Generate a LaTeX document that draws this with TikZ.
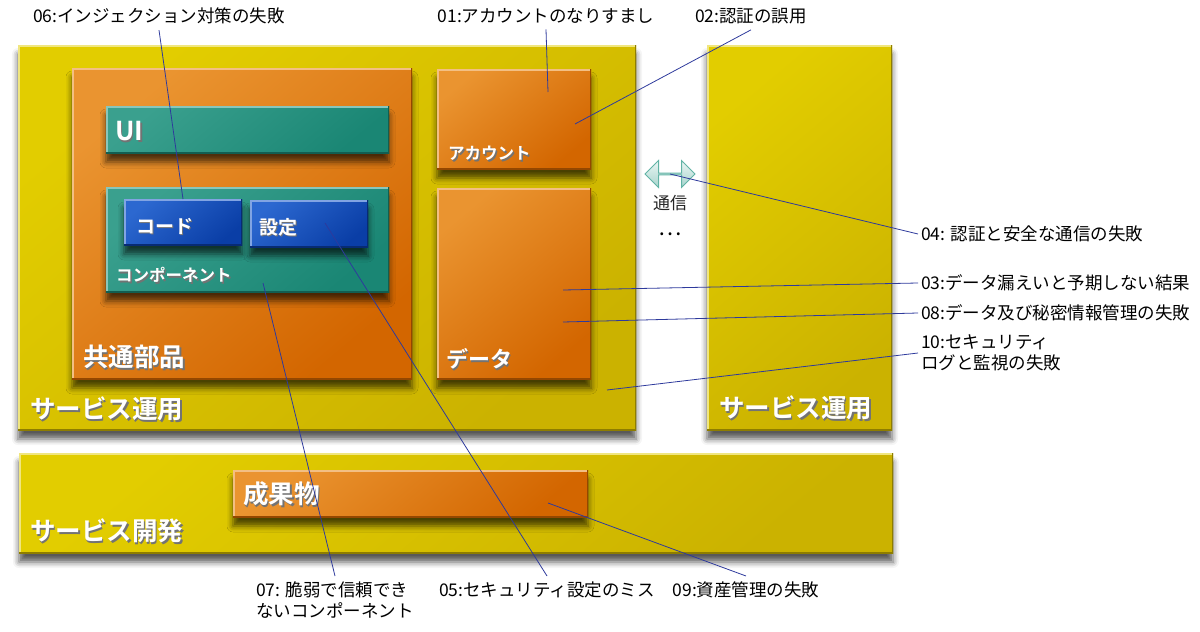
\documentclass[tikz,border=0pt]{standalone}
\usepackage{fontspec}
\setmainfont{Noto Sans CJK JP}[BoldFont={Noto Sans CJK JP Bold}]
\usepackage{xcolor}
\usetikzlibrary{positioning,shapes.arrows,shadows.blur}

\definecolor{ylwA}{HTML}{E2CD00}
\definecolor{ylwB}{HTML}{CBB200}
\definecolor{orgA}{HTML}{EA9430}
\definecolor{orgB}{HTML}{D36600}
\definecolor{tealA}{HTML}{3AA08E}
\definecolor{tealB}{HTML}{1A8674}
\definecolor{bluA}{HTML}{2C68D0}
\definecolor{bluB}{HTML}{0A3EA6}
\definecolor{leadblue}{HTML}{2E3A9C}

\newcommand{\shtxt}[1]{\makebox[0pt][l]{\hspace{1.5pt}\raisebox{-1.5pt}{\textcolor{black!55}{#1}}}#1}

\begin{document}
\begin{tikzpicture}[x=1pt, y=-1pt,
		bevel/.style 2 args={path picture={
			\draw[#1, line width=3pt] (path picture bounding box.south west) -- (path picture bounding box.north west) -- (path picture bounding box.north east);
			\draw[#2, line width=3pt] (path picture bounding box.north east) -- (path picture bounding box.south east) -- (path picture bounding box.south west);}},
		box/.style={rectangle, anchor=north west, inner sep=0pt, outer sep=0pt,
			blur shadow={shadow xshift=0pt, shadow yshift=-9pt, shadow blur radius=6pt, shadow opacity=65}},
		ybox/.style={box, top color=ylwA, bottom color=ylwB, shading angle=40, bevel={ylwA!50!white}{ylwB!70!black}},
		obox/.style={box, top color=orgA, bottom color=orgB, shading angle=40, bevel={orgA!60!white}{orgB!70!black}},
		tbox/.style={box, top color=tealA, bottom color=tealB, shading angle=40, bevel={tealA!60!white}{tealB!70!black}},
		bbox/.style={box, top color=bluA, bottom color=bluB, shading angle=40, bevel={bluA!60!white}{bluB!70!black}},
		btxt/.style={anchor=west, inner sep=0pt, text=white, font=\bfseries\fontsize{#1}{#1}\selectfont},
		lbl/.style={inner sep=3pt, outer ysep=3pt, align=left, font=\fontsize{17.5}{21}\selectfont},
		lead/.style={draw=leadblue, line width=0.8pt}]
	%\draw[help lines] (0,0) grid[step=50] (1200,632);
	\useasboundingbox (0,0) rectangle (1200,632);

	% service boxes
	\node[ybox, minimum width=618pt, minimum height=385pt] (ops) at (18,45) {};
	\node[ybox, minimum width=185pt, minimum height=385pt] (ops2) at (707,45) {};
	\node[ybox, minimum width=874pt, minimum height=100pt] (dev) at (19,453) {};

	\node[obox, minimum width=340pt, minimum height=311pt] (common) at (72,68) {};
	\node[tbox, minimum width=283pt, minimum height=47pt] (ui) at (106,106) {};
	\node[tbox, minimum width=283pt, minimum height=105pt] (comp) at (106,187) {};
	\node[bbox, minimum width=118pt, minimum height=46pt] (code) at (124,199) {};
	\node[bbox, minimum width=118pt, minimum height=47pt] (conf) at (250,200) {};
	\node[obox, minimum width=154pt, minimum height=100pt] (acct) at (437,69) {};
	\node[obox, minimum width=154pt, minimum height=191pt] (data) at (437,188) {};
	\node[obox, minimum width=355pt, minimum height=47pt] (deliv) at (233,470) {};

	\node[btxt=25.5] (tOps) at (30,410) {\shtxt{サービス運用}};
	\node[btxt=25.5] (tOps2) at (719,409) {\shtxt{サービス運用}};
	\node[btxt=25.5] (tDev) at (30,532) {\shtxt{サービス開発}};
	\node[btxt=25.5] (tCommon) at (83,358) {\shtxt{共通部品}};
	\node[btxt=26] (tUI) at (115,132) {\shtxt{UI}};
	\node[btxt=19] (tCode) at (136,227) {\shtxt{コード}};
	\node[btxt=19] (tConf) at (259,228) {\shtxt{設定}};
	\node[btxt=16.5] (tComp) at (116,276) {\shtxt{コンポーネント}};
	\node[btxt=16.5] (tAcct) at (448,154) {\shtxt{アカウント}};
	\node[btxt=22] (tData) at (446,360) {\shtxt{データ}};
	\node[btxt=25.5] (tDeliv) at (243,495) {\shtxt{成果物}};

	% communication
	\node[double arrow, double arrow head extend=7pt, minimum height=50pt, minimum width=27pt, inner sep=0pt,
		top color=white!90!tealA, bottom color=tealA!45!white, draw=tealA!80!white, line width=1pt] (comm) at (670,174) {};
	\node[font=\fontsize{17}{17}\selectfont, text=black!85] (commL) at (670,203) {通信};
	\node[font=\fontsize{22}{22}\selectfont] (dots) at (670,234) {…};

	% labels
	\node[lbl] (l06) at (159,16) {06:インジェクション対策の失敗};
	\node[lbl] (l01) at (546,16) {01:アカウントのなりすまし};
	\node[lbl] (l02) at (751,16) {02:認証の誤用};
	\node[lbl, anchor=west] (l04) at (918,234) {04: 認証と安全な通信の失敗};
	\node[lbl, anchor=west] (l03) at (918,283) {03:データ漏えいと予期しない結果};
	\node[lbl, anchor=west] (l08) at (918,313) {08:データ及び秘密情報管理の失敗};
	\node[lbl, anchor=west] (l10) at (918,353) {10:セキュリティ\\ログと監視の失敗};
	\node[lbl, anchor=north] (l07) at (335,576) {07: 脆弱で信頼でき\\ないコンポーネント};
	\node[lbl, anchor=north] (l05) at (547,576) {05:セキュリティ設定のミス};
	\node[lbl, anchor=north] (l09) at (746,576) {09:資産管理の失敗};

	\coordinate (p01) at (548,92);
	\coordinate (p02) at (575,124);
	\coordinate (p03) at (563,290);
	\coordinate (p08) at (563,322);
	\coordinate (p10) at (607,390);
	\coordinate (p07) at (263,283);
	\coordinate (p05) at (325,223);
	\coordinate (p09) at (548,503);

	\draw[lead] (l06.south) -- (code.north);
	\draw[lead] (l01.south) -- (p01);
	\draw[lead] (l02.south) -- (p02);
	\draw[lead] (comm.center) -- (l04.west);
	\draw[lead] (p03) -- (l03.west);
	\draw[lead] (p08) -- (l08.west);
	\draw[lead] (p10) -- (l10.west);
	\draw[lead] (p07) -- (l07.north);
	\draw[lead] (p05) -- (l05.north);
	\draw[lead] (p09) -- (l09.north);
\end{tikzpicture}
\end{document}
